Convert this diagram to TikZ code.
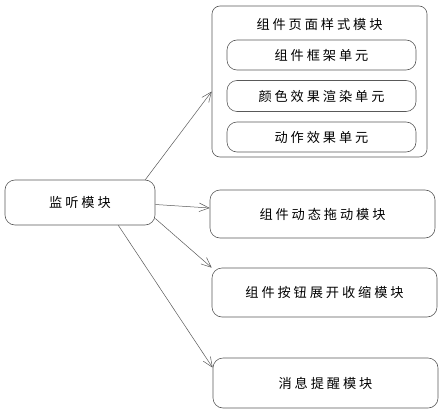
\documentclass[tikz,border=0pt]{standalone}
\usepackage{fontspec}
\newfontfamily\cjk[LetterSpace=22]{Noto Sans CJK SC}
\usetikzlibrary{arrows.meta, positioning}

\begin{document}
\begin{tikzpicture}[
    x=1pt, y=-1pt,
    font=\cjk\fontsize{13.2}{15}\selectfont,
    module/.style={
        rectangle,
        minimum width=225pt,
        minimum height=48pt,
        text centered,
        draw=black!65,
        line width=0.6pt,
        rounded corners=10pt
    },
    unit/.style={
        module,
        minimum width=189pt,
        minimum height=30pt
    },
    arrow/.style={draw=black!65, line width=0.5pt, -{Straight Barb[length=3.5mm, width=3mm]}}
]
    \useasboundingbox (0,0) rectangle (443,414);

    \node (frame) [module, minimum width=215pt, minimum height=151pt, rounded corners=8pt] at (319.5,81.5) {};
    \node (title) at (319.5,24) {组件页面样式模块};
    \node (skeleton) [unit] at (321.5,55) {组件框架单元};
    \node (colour) [unit, minimum height=31pt] at (321.5,96) {颜色效果渲染单元};
    \node (motion) [unit] at (321.5,137) {动作效果单元};

    \node (listen) [module, minimum width=150pt, minimum height=45pt] at (80,202.5) {监听模块};

    \node (drag) [module] at (322.5,214) {组件动态拖动模块};
    \node (button) [module, minimum height=49pt] at (324.5,292.5) {组件按钮展开收缩模块};
    \node (notice) [module, minimum height=50pt] at (325.5,383) {消息提醒模块};

    \draw [arrow] ([xshift=-10pt]listen.north east) -- ([yshift=-10pt]frame.west);
    \draw [arrow] ([yshift=-2pt]listen.east) -- ([yshift=6pt]drag.west);
    \draw [arrow] ([yshift=-16pt]listen.east) -- (button.north west);
    \draw [arrow] ([xshift=-37pt]listen.south east) -- ([yshift=-10pt]notice.north west);

\end{tikzpicture}
\end{document}
